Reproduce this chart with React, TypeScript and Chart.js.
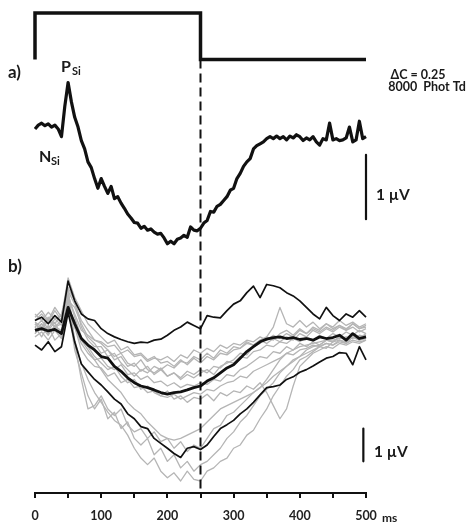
import React, { useEffect, useRef } from 'react';
import { Chart, registerables } from 'chart.js';

Chart.register(...registerables);

// ---------- data ----------
const T5 = [0,5,10,15,20,25,30,35,40,45,50,55,60,65,70,75,80,85,90,95,100,105,110,115,120,125,130,135,140,145,150,155,160,165,170,175,180,185,190,195,200,205,210,215,220,225,230,235,240,245,250,255,260,265,270,275,280,285,290,295,300,305,310,315,320,325,330,335,340,345,350,355,360,365,370,375,380,385,390,395,400,405,410,415,420,425,430,435,440,445,450,455,460,465,470,475,480,485,490,495,500];
const T10 = [0,10,20,30,40,50,60,70,80,90,100,110,120,130,140,150,160,170,180,190,200,210,220,230,240,250,260,270,280,290,300,310,320,330,340,350,360,370,380,390,400,410,420,430,440,450,460,470,480,490,500];

// stimulus time course (on / off)
const STIM_T = [0, 0, 250, 250, 500];
const STIM_LEVEL = [0, 1, 1, 0, 0];

// panel a) grand average (µV)
const PANEL_A = [0.00,0.06,0.09,0.05,0.08,0.03,0.06,0.00,-0.12,0.35,0.72,0.42,0.18,0.03,-0.18,-0.31,-0.51,-0.60,-0.77,-0.92,-0.77,-0.89,-1.00,-0.89,-1.08,-1.05,-1.15,-1.23,-1.32,-1.38,-1.45,-1.46,-1.54,-1.51,-1.57,-1.55,-1.60,-1.63,-1.62,-1.69,-1.78,-1.74,-1.78,-1.71,-1.69,-1.65,-1.68,-1.52,-1.57,-1.58,-1.54,-1.46,-1.42,-1.28,-1.29,-1.20,-1.17,-1.11,-1.05,-0.95,-0.92,-0.77,-0.69,-0.58,-0.51,-0.46,-0.31,-0.26,-0.23,-0.20,-0.15,-0.12,-0.15,-0.11,-0.15,-0.12,-0.17,-0.11,-0.14,-0.09,-0.12,-0.18,-0.14,-0.17,-0.12,-0.20,-0.25,-0.15,-0.17,0.09,-0.17,-0.15,-0.18,-0.17,-0.14,0.03,-0.20,-0.17,0.12,-0.15,-0.12];

// panel b) mean and two extreme observers (µV)
const B_MEAN = [0.0,0.05,-0.02,0.03,-0.1, 0.7,0.2,-0.25,-0.45,-0.6, -0.8,-0.85,-1.1,-1.25,-1.45, -1.6,-1.7,-1.75,-1.82,-1.9, -1.95,-1.9,-1.88,-1.82,-1.75, -1.7,-1.55,-1.45,-1.3,-1.15, -1.05,-0.85,-0.65,-0.5,-0.35, -0.27,-0.22,-0.2,-0.25,-0.22, -0.28,-0.25,-0.3,-0.2,-0.25, -0.22,-0.15,-0.3,-0.1,-0.25, -0.2];
const B_UPPER = [0.3,0.4,0.2,0.45,0.25, 1.5,0.9,0.5,0.35,0.3, 0.05,-0.1,-0.2,-0.28,-0.35, -0.4,-0.36,-0.38,-0.3,-0.27, -0.15,0.0,0.1,0.25,0.15, 0.05,0.45,0.4,0.38,0.6, 0.8,0.9,1.15,1.35,1.0, 1.4,1.36,1.3,1.15,1.05, 0.9,0.7,0.5,0.35,0.7, 0.45,0.3,0.5,0.4,0.6, 0.4];
const B_LOWER = [-0.45,-0.6,-0.35,-0.65,-0.5, 0.55,-0.36,-1.03,-1.27,-1.5, -1.67,-1.88,-2.1,-2.25,-2.55, -2.7,-2.94,-3.0,-3.3,-3.45, -3.6,-3.76,-3.88,-3.6,-3.55, -3.64,-3.5,-3.24,-3.0,-2.88, -2.75,-2.55,-2.4,-2.2,-1.97, -1.75,-1.72,-1.67,-1.5,-1.42, -1.28,-1.2,-1.09,-0.97,-0.85, -0.8,-0.68,-0.7,-1.05,-0.5, -0.9];

// panel b) individual observers (µV)
const GRAY_1 = [-0.1,0.2,0.0,0.25,-0.2, 1.0,-0.3,-1.0,-1.5,-1.9, -2.2,-2.5,-2.75,-2.9,-3.2, -3.6,-3.9,-4.1,-3.9,-4.3, -4.5,-4.35,-4.6,-4.3,-4.55, -4.6,-4.3,-4.2,-4.0,-3.9, -3.6,-3.5,-3.2,-3.05,-2.7, -2.4,-2.0,-1.7,-1.4,-1.2, -0.9,-0.8,-0.65,-0.5,-0.55, -0.35,-0.3,-0.4,-0.2,-0.3, -0.25];
const GRAY_2 = [0.1,-0.2,0.15,-0.3,-0.1, 0.8,-0.6,-1.3,-2.0,-2.4, -2.1,-2.7,-2.5,-3.0,-2.8, -3.3,-3.5,-3.3,-3.8,-3.6, -4.0,-3.8,-4.2,-4.0,-4.3, -4.1,-4.0,-3.8,-3.6,-3.3, -3.1,-2.8,-2.6,-2.3,-2.0, -1.8,-1.6,-1.3,-1.1,-0.9, -0.8,-0.6,-0.5,-0.45,-0.3, -0.35,-0.2,-0.25,-0.1,-0.2, -0.15];
const GRAY_3 = [0.2,0.0,0.3,0.1,0.2, 1.3,-0.4,-1.5,-2.4,-2.3, -2.0,-2.4,-2.6,-2.4,-2.9, -3.1,-3.0,-3.3,-3.1,-3.4, -3.3,-3.6,-3.4,-3.7,-3.5, -3.6,-3.3,-3.0,-2.9,-2.6, -2.5,-2.3,-2.1,-1.9,-1.75, -1.6,-1.4,-1.25,-1.1,-0.95, -0.8,-0.7,-0.6,-0.5,-0.4, -0.45,-0.3,-0.35,-0.2,-0.3, -0.2];
const GRAY_4 = [0.0,0.2,-0.1,0.1,0.0, 0.9,0.1,-0.4,-0.7,-0.9, -1.2,-1.5,-1.7,-1.9,-2.2, -2.4,-2.55,-2.8,-3.0,-3.2, -3.3,-3.35,-3.3,-3.2,-3.1, -3.0,-2.8,-2.6,-2.4,-2.3, -2.2,-2.1,-2.0,-1.9,-1.75, -1.5,-1.2,-0.9,-0.7,-0.6, -0.5,-0.45,-0.4,-0.35,-0.3, -0.3,-0.25,-0.2,-0.25,-0.15, -0.2];
const GRAY_5 = [0.2,0.0,0.35,0.1,0.3, 1.1,0.4,-0.2,-0.5,-0.8, -1.0,-1.2,-1.1,-1.4,-1.6, -1.5,-1.8,-1.7,-1.9,-2.0, -1.85,-2.1,-2.0,-2.2,-2.05, -2.1,-1.95,-2.15,-1.9,-2.0, -1.85,-1.9,-1.7,-1.8,-1.6, -1.9,-2.3,-2.7,-2.4,-1.7, -1.1,-0.9,-0.7,-0.6,-0.5, -0.55,-0.4,-0.45,-0.35,-0.4, -0.3];
const GRAY_6 = [0.3,0.5,0.25,0.6,0.3, 1.2,0.8,0.3,0.0,-0.3, -0.4,-0.6,-0.8,-0.7,-1.0, -1.1,-0.9,-1.2,-1.3,-1.15, -1.4,-1.3,-1.5,-1.35,-1.45, -1.3,-1.2,-1.35,-1.1,-1.0, -0.9,-0.7,-0.75,-0.5,-0.4, -0.2,0.1,0.7,0.2,0.1, 0.3,0.1,0.25,0.05,0.2, 0.1,0.3,0.15,0.25,0.1, 0.2];
const GRAY_7 = [0.4,0.6,0.3,0.7,0.4, 1.6,1.0,0.6,0.2,0.0, -0.2,-0.4,-0.3,-0.6,-0.5, -0.75,-0.7,-0.9,-0.8,-1.0, -0.95,-1.1,-0.9,-1.05,-0.85, -1.0,-0.8,-0.9,-0.7,-0.75, -0.6,-0.55,-0.4,-0.45,-0.3, -0.2,-0.3,-0.1,0.0,-0.15, 0.05,-0.1,0.1,0.0,0.2, 0.05,0.15,0.0,0.2,0.05, 0.1];
const GRAY_8 = [0.1,0.3,0.05,0.35,0.15, 0.9,0.7,0.2,-0.2,-0.4, -0.7,-0.6,-0.9,-0.8,-1.1, -1.0,-1.25,-1.1,-1.35,-1.2, -1.4,-1.3,-1.45,-1.25,-1.35, -1.2,-1.3,-1.1,-1.15,-0.95, -1.0,-0.8,-0.85,-0.65,-0.6, -0.45,-0.5,-0.35,-0.4,-0.25, -0.35,-0.2,-0.3,-0.15,-0.25, -0.1,-0.2,-0.05,-0.15,0.0, -0.1];
const GRAY_9 = [-0.2,-0.05,-0.3,0.0,-0.25, 0.6,0.3,-0.3,-0.6,-0.9, -0.85,-1.1,-1.2,-1.05,-1.35, -1.3,-1.5,-1.4,-1.6,-1.55, -1.7,-1.6,-1.75,-1.65,-1.7, -1.6,-1.65,-1.5,-1.55,-1.35, -1.4,-1.2,-1.1,-0.95,-0.8, -0.85,-0.65,-0.7,-0.5,-0.6, -0.4,-0.5,-0.35,-0.45,-0.3, -0.35,-0.2,-0.3,-0.15,-0.25, -0.1];
const GRAY_10 = [0.25,0.1,0.4,0.2,0.5, 1.3,0.9,0.1,-0.3,-0.5, -0.5,-0.8,-0.7,-1.0,-1.2, -1.4,-1.2,-1.3,-1.1,-1.2, -1.05,-1.15,-0.95,-1.0,-0.8, -0.9,-0.7,-0.85,-0.6,-0.7, -0.5,-0.55,-0.35,-0.45,-0.3, -0.4,-0.25,-0.35,-0.2,-0.3, -0.1,-0.2,0.0,-0.1,0.05, -0.05,0.1,0.0,0.1,-0.05, 0.05];
const GRAY_11 = [-0.1,0.1,-0.15,0.15,-0.05, 0.75,0.1,-0.6,-0.9,-1.1, -1.15,-1.4,-1.3,-1.6,-1.5, -1.75,-1.7,-1.9,-1.85,-2.0, -2.05,-1.95,-2.1,-2.0,-1.9, -1.95,-1.8,-1.85,-1.7,-1.6, -1.55,-1.4,-1.45,-1.25,-1.15, -1.05,-0.95,-0.85,-0.7,-0.75, -0.6,-0.55,-0.45,-0.5,-0.4, -0.45,-0.35,-0.4,-0.3,-0.35, -0.3];
const GRAY_12 = [0.5,0.3,0.55,0.35,0.45, 1.0,0.5,0.0,-0.15,-0.3, -0.35,-0.5,-0.45,-0.7,-0.6, -0.8,-0.75,-0.95,-0.85,-0.9, -0.8,-0.95,-0.75,-0.85,-0.6, -0.7,-0.55,-0.65,-0.45,-0.55, -0.4,-0.45,-0.3,-0.35,-0.2, -0.3,-0.15,-0.25,-0.1,-0.2, 0.0,-0.1,0.05,-0.05,0.1, 0.0,0.15,0.05,0.2,0.05, 0.15];
const GRAY_TRACES = [GRAY_1, GRAY_2, GRAY_3, GRAY_4, GRAY_5, GRAY_6, GRAY_7, GRAY_8, GRAY_9, GRAY_10, GRAY_11, GRAY_12];

const X_LABELS = [0, 100, 200, 300, 400, 500];
const SCALE_BAR_UV = 1;

// ---------- layout (chart units = panel a µV) ----------
const Y_MIN = -5.646;
const Y_MAX = 2.0;
const A_OFFSET = 0;
const A_GAIN = 1;
const B_OFFSET = -3.123;
const B_GAIN = 0.508;
const STIM_BASE = 1.077;
const STIM_GAIN = 0.723;
const BAR_A = { t: 500, top: -0.4 };
const BAR_B = { t: 496, top: -3.0 };

const FONT = 'Lato, "DejaVu Sans", sans-serif';
const INK = '#111';

const pts = (ts: number[], vs: number[], off: number, gain: number) =>
  ts.map((t, i) => ({ x: t, y: off + vs[i] * gain }));

const textPlugin = {
  id: 'figureText',
  afterDraw(chart: any) {
    const ctx = chart.ctx as CanvasRenderingContext2D;
    ctx.save();
    ctx.fillStyle = '#1a1a1a';
    ctx.textBaseline = 'alphabetic';
    ctx.textAlign = 'left';
    const t = (s: string, x: number, y: number, size: number) => {
      ctx.font = `bold ${size}px ${FONT}`;
      ctx.fillText(s, x, y);
    };
    t('a)', 8, 78, 17);
    t('b)', 8, 272, 17);
    t('P', 61, 72, 16);
    t('Si', 72, 75, 11);
    t('N', 39, 162, 16);
    t('Si', 51, 165, 11);
    ctx.textAlign = 'center';
    t('\u0394C = 0.25', 418, 79, 12.5);
    t('8000  Phot Td', 427, 91, 12.5);
    ctx.textAlign = 'left';
    t('1 \u00b5V', 376, 200, 15.5);
    t('1 \u00b5V', 374, 457, 15.5);
    ctx.font = `bold 12px ${FONT}`;
    ctx.fillText('ms', 382, 522);
    ctx.restore();
  },
};

export default function App() {
  const ref = useRef<HTMLCanvasElement | null>(null);

  useEffect(() => {
    if (!ref.current) return;
    const line = (data: any[], color: string, width: number, order: number, extra: any = {}) => ({
      data,
      borderColor: color,
      backgroundColor: color,
      borderWidth: width,
      pointRadius: 0,
      tension: 0,
      fill: false,
      order,
      borderJoinStyle: 'round',
      borderCapStyle: 'butt',
      clip: false,
      ...extra,
    });

    const stimOff = STIM_T[2];
    const datasets: any[] = [
      line(pts(STIM_T, STIM_LEVEL, STIM_BASE, STIM_GAIN), INK, 3.5, 0, { borderJoinStyle: 'miter' }),
      line([{ x: stimOff, y: STIM_BASE }, { x: stimOff, y: Y_MIN }], INK, 2, 0, { borderDash: [9, 5] }),
      line(pts(T5, PANEL_A, A_OFFSET, A_GAIN), INK, 3.2, 0),
      line([{ x: BAR_A.t, y: BAR_A.top }, { x: BAR_A.t, y: BAR_A.top - SCALE_BAR_UV * A_GAIN }], INK, 2.2, 0),
      line([{ x: BAR_B.t, y: BAR_B.top * B_GAIN + B_OFFSET }, { x: BAR_B.t, y: (BAR_B.top - SCALE_BAR_UV) * B_GAIN + B_OFFSET }], INK, 2.2, 0),
      line(pts(T10, B_MEAN, B_OFFSET, B_GAIN), INK, 2.8, 1),
      line(pts(T10, B_UPPER, B_OFFSET, B_GAIN), INK, 1.7, 2),
      line(pts(T10, B_LOWER, B_OFFSET, B_GAIN), INK, 1.7, 2),
      ...GRAY_TRACES.map((g) => line(pts(T10, g, B_OFFSET, B_GAIN), '#b5b5b5', 1.3, 5)),
    ];

    const chart = new Chart(ref.current, {
      type: 'line',
      data: { datasets },
      options: {
        animation: false,
        responsive: false,
        maintainAspectRatio: false,
        layout: { padding: { left: 35, right: 108, top: 0, bottom: -8 } },
        plugins: { legend: { display: false }, tooltip: { enabled: false } },
        scales: {
          x: {
            type: 'linear',
            min: 0,
            max: 500,
            border: { display: true, color: INK, width: 2 },
            grid: { display: true, drawOnChartArea: false, drawTicks: true, tickLength: 5, color: INK, lineWidth: 2 },
            ticks: {
              stepSize: 50,
              autoSkip: false,
              maxRotation: 0,
              padding: 10,
              color: '#222',
              font: { family: FONT, size: 12.5, weight: 'bold' },
              callback: (v: any) => (X_LABELS.includes(Number(v)) ? String(v) : ''),
            },
          },
          y: { type: 'linear', display: false, min: Y_MIN, max: Y_MAX },
        },
      },
      plugins: [textPlugin],
    } as any);
    return () => chart.destroy();
  }, []);

  return (
    <div style={{ position: 'absolute', left: 0, top: 0, width: 474, height: 525, background: '#fff' }}>
      <canvas ref={ref} width={474} height={525} style={{ display: 'block' }} />
    </div>
  );
}
